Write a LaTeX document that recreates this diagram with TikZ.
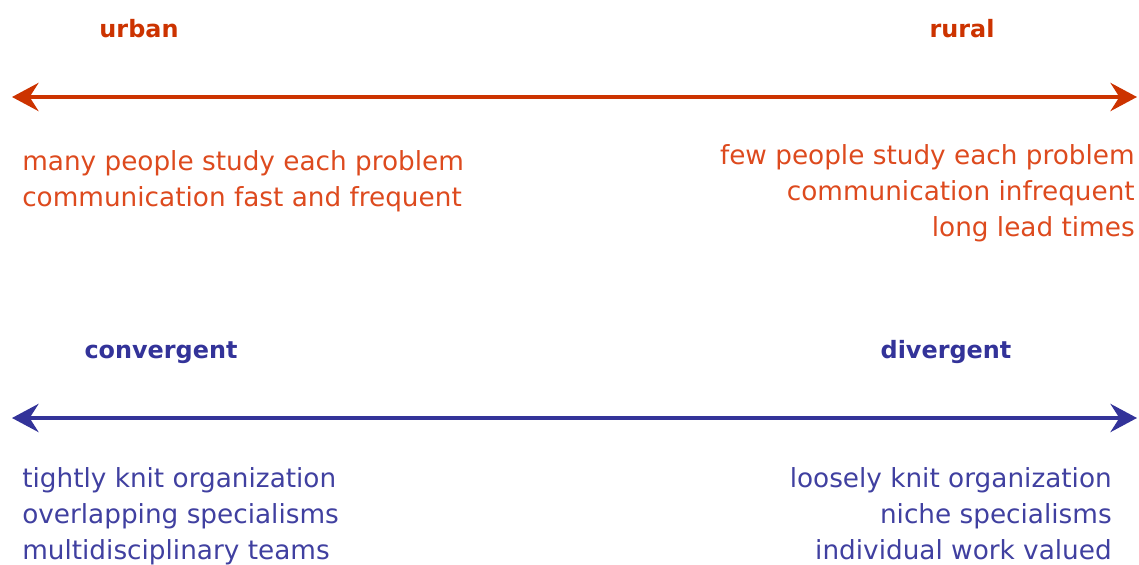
\documentclass[tikz,border=0pt]{standalone}
\usepackage{fontspec}
\setmainfont{DejaVu Sans}
\usetikzlibrary{arrows.meta}

\definecolor{urbanred}{HTML}{CC3300}
\definecolor{urbantext}{HTML}{DD4A1E}
\definecolor{convblue}{HTML}{333399}
\definecolor{convtext}{HTML}{4040A0}

\def\polefont{\fontsize{17}{20}\selectfont\bfseries}
\def\listfont{\fontsize{18.7}{25.6}\selectfont}

\tikzset{
  pole/.style={anchor=base, inner sep=0pt, font=\polefont},
  traits/.style={inner sep=0pt, font=\listfont},
  scale line/.style={line width=0.12cm,
    {Stealth[length=0.66cm, width=0.7cm, inset=0.22cm]}-{Stealth[length=0.66cm, width=0.7cm, inset=0.22cm]}}
}

\begin{document}
\begin{tikzpicture}[x=0.025cm, y=-0.025cm]
    \useasboundingbox (0,0) rectangle (1139,565);

    % first scale: urban to rural
    \node[pole, text=urbanred] (urban) at (139,38) {urban};
    \node[pole, text=urbanred] (rural) at (962,38) {rural};
    \coordinate (urbanend) at (12,97);
    \coordinate (ruralend) at (1137,97);
    \draw[scale line, urbanred] (urbanend) -- (ruralend);
    \node[traits, text=urbantext, align=left, anchor=north west] (urbanlist) at (22,150)
      {many people study each problem\\ communication fast and frequent};
    \node[traits, text=urbantext, align=right, anchor=north east] (rurallist) at (1135,144)
      {few people study each problem\\ communication infrequent\\ long lead times};

    % second scale: convergent to divergent
    \node[pole, text=convblue] (conv) at (161,358) {convergent};
    \node[pole, text=convblue] (div) at (946,358) {divergent};
    \coordinate (convend) at (12,418);
    \coordinate (divend) at (1137,418);
    \draw[scale line, convblue] (convend) -- (divend);
    \node[traits, text=convtext, align=left, anchor=north west] (convlist) at (22,467)
      {tightly knit organization\\ overlapping specialisms\\ multidisciplinary teams};
    \node[traits, text=convtext, align=right, anchor=north east] (divlist) at (1112,467)
      {loosely knit organization\\ niche specialisms\\ individual work valued};

\end{tikzpicture}
\end{document}
